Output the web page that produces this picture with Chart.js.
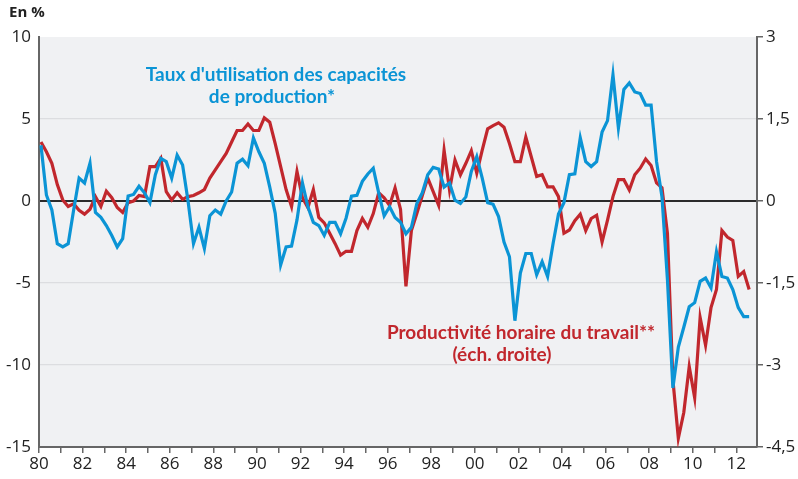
<!DOCTYPE html>
<html>
<head>
<meta charset="utf-8">
<script src="https://cdn.jsdelivr.net/npm/chart.js@4.4.0/dist/chart.umd.min.js"></script>
<style>
  body { margin: 0; background: #fff; }
  #wrap { width: 798px; height: 479px; position: relative; }
</style>
</head>
<body>
<div id="wrap"><canvas id="chart"></canvas></div>
<script>
// trimestres depuis 1980T1
const firstQuarter = 1980.09;

// Taux d'utilisation des capacités de production (éch. gauche)
const utilisation = [
  3.4, 0.37, -0.55, -2.6, -2.8, -2.6, -0.55, 1.4, 1.1, 2.3,
  -0.7, -1.0, -1.5, -2.1, -2.8, -2.3, 0.3, 0.4, 0.9, 0.5,
  -0.1, 1.6, 2.6, 2.4, 1.4, 2.8, 2.2, 0.0, -2.6, -1.6,
  -2.9, -0.9, -0.55, -0.8, 0.0, 0.55, 2.3, 2.55, 2.15, 3.85,
  3.0, 2.3, 0.85, -0.75, -3.9, -2.8, -2.75, -1.15, 1.1, -0.35,
  -1.3, -1.5, -2.1, -1.3, -1.3, -2.0, -1.05, 0.3, 0.35, 1.2,
  1.65, 2.0, 0.5, -0.9, -0.35, -1.0, -1.3, -2.0, -1.6, -0.15,
  0.5, 1.6, 2.05, 1.95, 0.85, 1.1, 0.05, -0.15, 0.25, 1.8,
  2.7, 1.4, -0.1, -0.2, -0.95, -2.5, -3.4, -7.3, -4.4, -3.2,
  -3.2, -4.5, -3.7, -4.6, -2.6, -0.8, -0.1, 1.6, 1.65, 3.85,
  2.4, 2.1, 2.4, 4.2, 4.9, 7.7, 4.45, 6.8, 7.2, 6.65,
  6.55, 5.85, 5.85, 2.4, 0.25, -4.8, -11.4, -8.9, -7.7, -6.45,
  -6.2, -4.9, -4.7, -5.3, -3.1, -4.6, -4.7, -5.4, -6.5, -7.05,
  -7.05
];

// Productivité horaire du travail (éch. droite)
const productivite = [
  1.08, 0.9, 0.69, 0.3, 0.02, -0.1, -0.05, -0.17, -0.24, -0.15,
  0.08, -0.1, 0.18, 0.06, -0.12, -0.21, -0.03, 0.0, 0.1, 0.08,
  0.63, 0.63, 0.78, 0.17, 0.02, 0.15, 0.03, 0.08, 0.1, 0.15,
  0.21, 0.42, 0.57, 0.72, 0.87, 1.08, 1.29, 1.29, 1.41, 1.29,
  1.29, 1.52, 1.44, 1.05, 0.63, 0.21, -0.1, 0.54, 0.06, -0.12,
  0.21, -0.3, -0.4, -0.59, -0.78, -0.99, -0.92, -0.92, -0.54, -0.32,
  -0.48, -0.23, 0.15, 0.06, -0.08, 0.24, -0.15, -1.56, -0.54, -0.23,
  0.1, 0.42, 0.17, -0.08, 0.93, 0.2, 0.75, 0.48, 0.69, 0.92,
  0.51, 0.93, 1.32, 1.38, 1.43, 1.35, 1.05, 0.72, 0.72, 1.17,
  0.81, 0.45, 0.48, 0.26, 0.26, 0.08, -0.59, -0.53, -0.36, -0.24,
  -0.54, -0.32, -0.26, -0.75, -0.35, 0.08, 0.39, 0.39, 0.2, 0.48,
  0.6, 0.77, 0.65, 0.33, 0.24, -0.59, -3.27, -4.34, -3.87, -3.03,
  -3.6, -2.13, -2.64, -1.95, -1.62, -0.54, -0.66, -0.72, -1.38, -1.29,
  -1.62
];

const xTickYears = [1980,1981,1982,1983,1984,1985,1986,1987,1988,1989,1990,1991,1992,1993,1994,1995,1996,1997,1998,1999,2000,2001,2002,2003,2004,2005,2006,2007,2008,2009,2010,2011,2012];
const leftTicks = [10, 5, 0, -5, -10, -15];
const rightTicks = [3, 1.5, 0, -1.5, -3, -4.5];

const BLUE = '#0b94d5';
const RED = '#c1272d';
const tickFont = { family: 'Open Sans', size: 17 };

// fond gris de la zone de tracé + textes
const decor = {
  id: 'decor',
  beforeDraw(chart) {
    const c = chart.ctx, a = chart.chartArea;
    c.save();
    c.fillStyle = '#fff';
    c.fillRect(0, 0, chart.width, chart.height);
    c.fillStyle = '#f0f1f3';
    c.fillRect(a.left, a.top, a.right - a.left, a.bottom - a.top);
    c.restore();
  },
  afterDraw(chart) {
    const c = chart.ctx;
    c.save();
    c.textBaseline = 'middle';
    c.fillStyle = '#222';
    c.textAlign = 'left';
    c.font = 'bold 15px "Open Sans"';
    c.fillText('En %', 9, 13);

    c.textAlign = 'center';
    c.font = 'bold 19px Lato';
    c.fillStyle = BLUE;
    c.fillText("Taux d'utilisation des capacités", 276, 75);
    c.fillText('de production*', 272, 97);
    c.fillStyle = RED;
    c.fillText('Productivité horaire du travail**', 521, 333);
    c.fillText('(éch. droite)', 502, 355);
    c.restore();
  }
};

new Chart(document.getElementById('chart'), {
  type: 'line',
  data: {
    datasets: [
      {
        label: 'utilisation',
        data: utilisation.map((v, i) => ({ x: firstQuarter + i / 4, y: v })),
        borderColor: BLUE,
        borderWidth: 3.2,
        pointRadius: 0,
        tension: 0,
        yAxisID: 'y'
      },
      {
        label: 'productivite',
        data: productivite.map((v, i) => ({ x: firstQuarter + i / 4, y: v })),
        borderColor: RED,
        borderWidth: 3.2,
        pointRadius: 0,
        tension: 0,
        yAxisID: 'y2'
      }
    ]
  },
  options: {
    responsive: true,
    maintainAspectRatio: false,
    animation: false,
    layout: { padding: { top: 37, left: 0, right: 0, bottom: 0 } },
    plugins: {
      legend: { display: false },
      tooltip: { enabled: false }
    },
    scales: {
      x: {
        type: 'linear',
        min: 1980,
        max: 2012.95,
        afterBuildTicks: s => { s.ticks = xTickYears.map(v => ({ value: v })); },
        afterFit: s => { s.height = 32; },
        ticks: {
          autoSkip: false,
          maxRotation: 0,
          color: '#222',
          font: tickFont,
          padding: 1,
          callback: v => (v % 2 === 0 ? String(v).slice(2) : '')
        },
        grid: { drawOnChartArea: false, tickLength: 6, color: '#666', lineWidth: 1.5 },
        border: { color: '#666', width: 2 }
      },
      y: {
        position: 'left',
        min: -15,
        max: 10,
        afterBuildTicks: s => { s.ticks = leftTicks.map(v => ({ value: v })); },
        afterFit: s => { s.width = 39; },
        ticks: { color: '#222', font: tickFont, padding: 8 },
        grid: {
          drawTicks: false,
          color: ctx => {
            const v = ctx.tick ? ctx.tick.value : null;
            if (v === 0) return '#2b2b2b';
            if (v === 10 || v === -15) return 'rgba(0,0,0,0)';
            return '#dcdde0';
          },
          lineWidth: ctx => (ctx.tick && ctx.tick.value === 0 ? 2 : 1.2)
        },
        border: { color: '#666', width: 2 }
      },
      y2: {
        position: 'right',
        min: -4.5,
        max: 3,
        afterBuildTicks: s => { s.ticks = rightTicks.map(v => ({ value: v })); },
        afterFit: s => { s.width = 41; },
        ticks: {
          color: '#222',
          font: tickFont,
          padding: 3,
          callback: v => String(v).replace('.', ',')
        },
        grid: { drawOnChartArea: false, tickLength: 6, color: '#666', lineWidth: 1.5 },
        border: { color: '#666', width: 2 }
      }
    }
  },
  plugins: [decor]
});
</script>
</body>
</html>
